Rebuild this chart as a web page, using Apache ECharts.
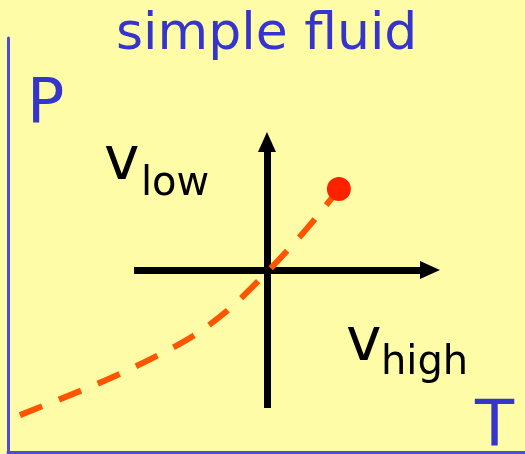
<!DOCTYPE html>
<html>
<head>
<meta charset="utf-8">
<script src="https://cdn.jsdelivr.net/npm/echarts@6/dist/echarts.min.js"></script>
<style>
  html, body { margin: 0; padding: 0; background: #FFFCA8; }
  #root { width: 525px; height: 454px; }
</style>
</head>
<body>
<div id="root"></div>
<script>
// coexistence curve, in percent of the T (x) and P (y) frame
const curveT = [2.3, 13.9, 21.5, 28.8, 35.8, 42.4, 48.4, 54.0, 59.4, 64.0]
const curveP = [8.9, 14.7, 18.8, 23.2, 28.0, 34.1, 41.3, 48.6, 56.3, 63.5]
// critical point
const criticalPoint = [64.0, 63.5]
// ranges of the small v cross (zero is where the arrows cross)
const crossX = [-1, 1.226]
const crossY = [-1, 0.928]

const blue = '#3535CC'
const font = 'DejaVu Sans, Verdana, sans-serif'

const chart = echarts.init(document.getElementById('root'))

const hidden = { axisTick: { show: false }, axisLabel: { show: false }, splitLine: { show: false } }

const option = {
  backgroundColor: '#FFFCA8',
  animation: false,
  title: {
    text: 'simple fluid',
    left: 111,
    top: 4,
    textStyle: { color: blue, fontSize: 52, fontWeight: 'normal', fontFamily: font }
  },
  grid: [
    { left: 8, top: 38, right: 0, bottom: 2 },
    { left: 134, top: 142, width: 296, height: 266 }
  ],
  xAxis: [
    {
      gridIndex: 0, type: 'value', min: 0, max: 100, ...hidden,
      axisLine: { show: true, onZero: false, lineStyle: { color: '#4C4CD6', width: 3 } }
    },
    {
      gridIndex: 1, type: 'value', min: crossX[0], max: crossX[1], ...hidden,
      axisLine: { show: true, onZero: true, lineStyle: { color: '#000', width: 7, cap: 'butt' } }
    }
  ],
  yAxis: [
    {
      gridIndex: 0, type: 'value', min: 0, max: 100, ...hidden,
      axisLine: { show: true, onZero: false, lineStyle: { color: '#4C4CD6', width: 3 } }
    },
    {
      gridIndex: 1, type: 'value', min: crossY[0], max: crossY[1], ...hidden,
      axisLine: { show: true, onZero: true, lineStyle: { color: '#000', width: 7, cap: 'butt' } }
    }
  ],
  series: [
    {
      type: 'line',
      xAxisIndex: 0,
      yAxisIndex: 0,
      data: curveT.map((t, i) => [t, curveP[i]]),
      smooth: 0.3,
      showSymbol: false,
      lineStyle: { color: '#FF5500', width: 6, type: [24, 18], cap: 'butt' },
      z: 3
    },
    {
      type: 'scatter',
      xAxisIndex: 0,
      yAxisIndex: 0,
      data: [criticalPoint],
      symbolSize: 24,
      itemStyle: { color: '#FF2200', opacity: 1 },
      z: 4
    },
    // arrow heads at the ends of the v cross
    {
      type: 'scatter',
      xAxisIndex: 1,
      yAxisIndex: 1,
      clip: false,
      silent: true,
      symbol: 'triangle',
      symbolSize: [18, 20],
      data: [
        { value: [0, crossY[1]], symbolRotate: 0 },
        { value: [crossX[1], 0], symbolRotate: -90 }
      ],
      itemStyle: { color: '#000', opacity: 1 },
      z: 2
    }
  ],
  graphic: [
    { type: 'text', x: 27, y: 106, style: { text: 'P', font: '62px ' + font, fill: blue, textVerticalAlign: 'middle' } },
    { type: 'text', x: 475, y: 429, style: { text: 'T', font: '64px ' + font, fill: blue, textVerticalAlign: 'middle' } },
    { type: 'text', x: 104, y: 163, style: { text: 'v', font: '60px ' + font, fill: '#000', textVerticalAlign: 'middle' } },
    { type: 'text', x: 141, y: 185, style: { text: 'low', font: '40px ' + font, fill: '#000', textVerticalAlign: 'middle' } },
    { type: 'text', x: 346, y: 344, style: { text: 'v', font: '60px ' + font, fill: '#000', textVerticalAlign: 'middle' } },
    { type: 'text', x: 381, y: 364, style: { text: 'high', font: '40px ' + font, fill: '#000', textVerticalAlign: 'middle' } }
  ]
}

chart.setOption(option)
</script>
</body>
</html>
